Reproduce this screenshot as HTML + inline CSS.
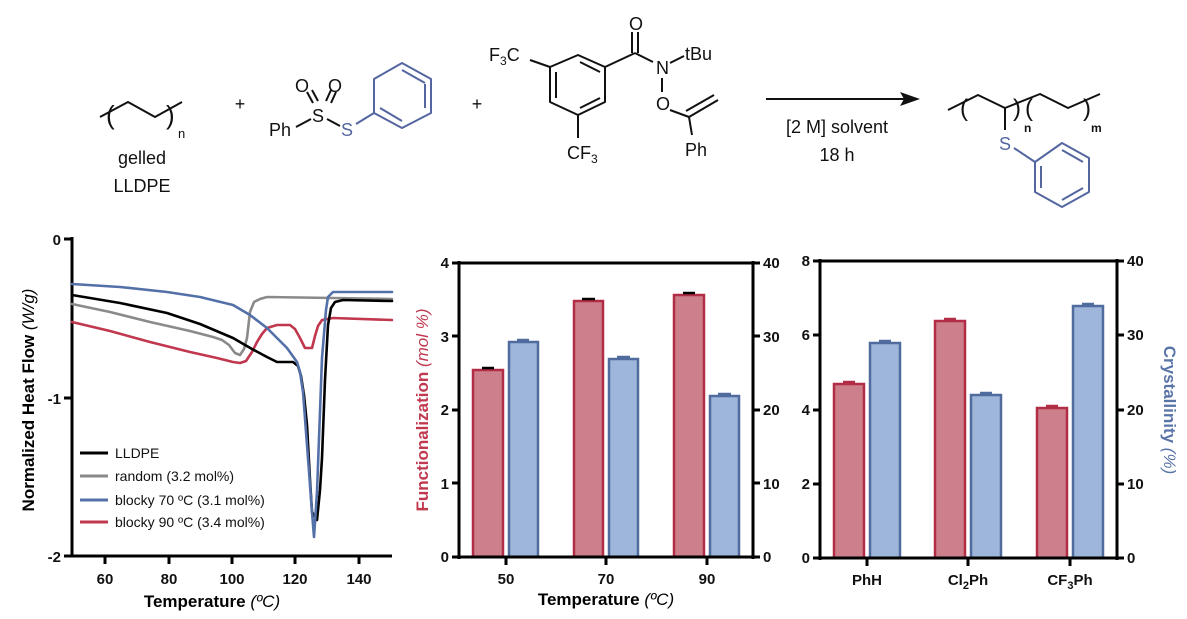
<!DOCTYPE html>
<html><head><meta charset="utf-8"><style>
html,body{margin:0;padding:0;background:#fff;}
svg{display:block;font-family:"Liberation Sans",sans-serif;}
.t{font-size:18px;fill:#111;}
.b{font-size:15px;font-weight:bold;fill:#111;}
.ax{stroke:#000;stroke-width:3;fill:none;}
.rb{fill:#cd808b;stroke:#b12c45;stroke-width:2.5;}
.bb{fill:#9db6da;stroke:#506b9d;stroke-width:2.5;}
.mol{stroke:#111;stroke-width:2;fill:none;stroke-linejoin:round;}
.blu{stroke:#5466a0;stroke-width:2;fill:none;stroke-linejoin:round;}
</style></head><body>
<svg width="1187" height="619" viewBox="0 0 1187 619">
<!-- Scheme -->
<polyline class="mol" points="100,117 128,102 155,117 182,102"/>
<text class="t" x="106" y="124" style="font-size:26px">(</text>
<text class="t" x="166" y="124" style="font-size:26px">)</text>
<text class="t" x="178" y="138" style="font-size:13px">n</text>
<text class="t" x="142" y="164" text-anchor="middle">gelled</text>
<text class="t" x="142" y="192" text-anchor="middle">LLDPE</text>
<text class="t" x="240" y="110" text-anchor="middle">+</text>
<text class="t" x="269" y="136">Ph</text>
<line class="mol" x1="296" y1="127" x2="311" y2="119"/>
<text class="t" x="312" y="122">S</text>
<line class="mol" x1="327" y1="119" x2="340" y2="126"/>
<line class="mol" x1="313" y1="103" x2="307" y2="92"/><line class="mol" x1="318" y1="101" x2="312" y2="90"/>
<line class="mol" x1="326" y1="101" x2="331" y2="90"/><line class="mol" x1="331" y1="103" x2="336" y2="92"/>
<text class="t" x="295" y="92">O</text><text class="t" x="328" y="92">O</text>
<text x="341" y="136" style="font-size:18px;fill:#5466a0">S</text>
<line class="blu" x1="356" y1="124" x2="374" y2="113"/>
<polygon class="blu" points="402,63 431,79 431,113 402,128 374,113 374,79"/>
<line class="blu" x1="402" y1="70" x2="425" y2="83"/>
<line class="blu" x1="425" y1="84" x2="425" y2="108"/><line class="blu" x1="380" y1="108" x2="402" y2="121"/>
<text class="t" x="477" y="110" text-anchor="middle">+</text>
<text class="t" x="489" y="61">F<tspan style="font-size:12px" dy="4">3</tspan><tspan dy="-4">C</tspan></text>
<line class="mol" x1="530" y1="60" x2="550" y2="67"/>
<polygon class="mol" points="578,55 605,67 605,102 578,115 550,102 550,67"/>
<line class="mol" x1="580" y1="62" x2="600" y2="72"/><line class="mol" x1="556" y1="72" x2="556" y2="98"/><line class="mol" x1="580" y1="108" x2="600" y2="98"/>
<line class="mol" x1="578" y1="115" x2="578" y2="138"/>
<text class="t" x="567" y="159">CF<tspan style="font-size:12px" dy="4">3</tspan></text>
<line class="mol" x1="605" y1="67" x2="635" y2="53"/>
<line class="mol" x1="632" y1="53" x2="632" y2="32"/><line class="mol" x1="638" y1="53" x2="638" y2="32"/>
<text class="t" x="629" y="30">O</text>
<line class="mol" x1="635" y1="53" x2="653" y2="62"/>
<text class="t" x="656" y="74">N</text>
<line class="mol" x1="670" y1="63" x2="684" y2="56"/>
<text class="t" x="685" y="60">tBu</text>
<line class="mol" x1="662" y1="78" x2="662" y2="92"/>
<text class="t" x="656" y="110">O</text>
<line class="mol" x1="670" y1="110" x2="689" y2="117"/>
<line class="mol" x1="689" y1="117" x2="718" y2="100"/><line class="mol" x1="686" y1="111" x2="714" y2="95"/>
<line class="mol" x1="689" y1="117" x2="692" y2="135"/>
<text class="t" x="685" y="156">Ph</text>
<line x1="766" y1="99" x2="905" y2="99" stroke="#111" stroke-width="2"/>
<polygon points="920,99 900,92 904,99 900,106" fill="#111"/>
<text class="t" x="837" y="133" text-anchor="middle">[2 M] solvent</text>
<text class="t" x="837" y="161" text-anchor="middle">18 h</text>
<polyline class="mol" points="948,110 978,95 1005,108 1040,94 1068,108 1100,94"/>
<text class="t" x="960" y="116" style="font-size:24px">(</text>
<text class="t" x="1013" y="116" style="font-size:24px">)</text>
<text class="t" x="1025" y="116" style="font-size:24px">(</text>
<text class="t" x="1083" y="116" style="font-size:24px">)</text>
<text x="1024" y="132" style="font-size:12px;font-weight:bold;fill:#111">n</text>
<text x="1091" y="132" style="font-size:12px;font-weight:bold;fill:#111">m</text>
<line class="mol" x1="1005" y1="108" x2="1005" y2="130"/>
<text x="999" y="150" style="font-size:18px;fill:#5466a0">S</text>
<line class="blu" x1="1014" y1="148" x2="1035" y2="162"/>
<polygon class="blu" points="1062,143 1089,158 1089,192 1062,207 1035,192 1035,162"/>
<line class="blu" x1="1062" y1="150" x2="1083" y2="162"/><line class="blu" x1="1041" y1="166" x2="1041" y2="188"/><line class="blu" x1="1062" y1="200" x2="1083" y2="188"/>

<!-- Left DSC chart -->
<line class="ax" x1="72" y1="237" x2="72" y2="557"/>
<line class="ax" x1="70" y1="556" x2="392" y2="556"/>
<line class="ax" x1="64" y1="239" x2="72" y2="239"/><line class="ax" x1="64" y1="398" x2="72" y2="398"/><line class="ax" x1="64" y1="556" x2="72" y2="556"/>
<g class="ax"><line x1="105" y1="556" x2="105" y2="564"/><line x1="169" y1="556" x2="169" y2="564"/><line x1="232" y1="556" x2="232" y2="564"/><line x1="295" y1="556" x2="295" y2="564"/><line x1="359" y1="556" x2="359" y2="564"/></g>
<g class="b" text-anchor="end"><text x="61" y="245">0</text><text x="61" y="404">-1</text><text x="61" y="562">-2</text></g>
<g class="b" text-anchor="middle"><text x="105" y="584">60</text><text x="169" y="584">80</text><text x="232" y="584">100</text><text x="295" y="584">120</text><text x="359" y="584">140</text></g>
<text x="212" y="607" text-anchor="middle" style="font-size:17px;font-weight:bold">Temperature <tspan font-weight="normal" font-style="italic">(ºC)</tspan></text>
<text transform="translate(34,400) rotate(-90)" text-anchor="middle" style="font-size:17px;font-weight:bold">Normalized Heat Flow <tspan font-weight="normal" font-style="italic">(W/g)</tspan></text>
<g fill="none" stroke-width="2.6" stroke-linejoin="round" stroke-linecap="round">
<polyline stroke="#8a8a8a" points="72,304 110,312 150,322 190,331 213,337 222,340 229,345 235,353 240,355 244,349 247,338 250,312 254,302 260,299 267,297 333,298 392,299"/>
<polyline stroke="#c0374e" points="72,322 110,331 150,342 190,352 217,358 233,362 240,363 246,361 252,352 257,342 262,334 267,328 277,325 290,325 295,329 300,338 305,348 312,348 315,336 318,326 322,320 333,318 392,320"/>
<polyline stroke="#000" points="72,295 120,303 167,313 200,324 233,338 252,349 267,357 277,362 293,362 298,366 301,376 304,395 307,425 310,480 312,512 317,520 320,490 322,458 325,380 328,325 331,308 335,302 343,300 392,301"/>
<polyline stroke="#5470a8" points="72,284 120,287 167,292 200,297 233,305 250,315 267,328 287,348 297,362 300,372 303,392 308,458 312,512 314,537 317,492 322,358 326,310 328,297 333,292 392,292"/>
</g>
<g stroke-width="3"><line x1="80" y1="453" x2="108" y2="453" stroke="#000"/><line x1="80" y1="476" x2="108" y2="476" stroke="#8a8a8a"/><line x1="80" y1="500" x2="108" y2="500" stroke="#5470a8"/><line x1="80" y1="522" x2="108" y2="522" stroke="#c0374e"/></g>
<g style="font-size:14px" fill="#111"><text x="115" y="458">LLDPE</text><text x="115" y="481">random (3.2 mol%)</text><text x="115" y="505">blocky 70 ºC (3.1 mol%)</text><text x="115" y="527">blocky 90 ºC (3.4 mol%)</text></g>

<!-- Middle chart -->
<rect class="rb" x="473" y="370" width="30" height="187"/><rect class="bb" x="509" y="342" width="29" height="215"/>
<rect class="rb" x="574" y="301" width="29" height="256"/><rect class="bb" x="609" y="359" width="29" height="198"/>
<rect class="rb" x="674" y="295" width="30" height="262"/><rect class="bb" x="710" y="396" width="29" height="161"/>
<g stroke-width="2.5"><line x1="482" y1="368" x2="494" y2="368" stroke="#000"/><line x1="517" y1="340" x2="529" y2="340" stroke="#506b9d"/><line x1="582" y1="299" x2="595" y2="299" stroke="#000"/><line x1="617" y1="357" x2="630" y2="357" stroke="#506b9d"/><line x1="683" y1="293" x2="695" y2="293" stroke="#000"/><line x1="718" y1="394" x2="731" y2="394" stroke="#506b9d"/></g>
<line class="ax" x1="459" y1="263" x2="753" y2="263"/>
<line class="ax" x1="459" y1="261" x2="459" y2="559"/><line class="ax" x1="753" y1="261" x2="753" y2="559"/>
<line class="ax" x1="452" y1="557" x2="760" y2="557"/>
<g class="ax"><line x1="452" y1="263" x2="459" y2="263"/><line x1="452" y1="336" x2="459" y2="336"/><line x1="452" y1="410" x2="459" y2="410"/><line x1="452" y1="483" x2="459" y2="483"/>
<line x1="753" y1="263" x2="760" y2="263"/><line x1="753" y1="336" x2="760" y2="336"/><line x1="753" y1="410" x2="760" y2="410"/><line x1="753" y1="483" x2="760" y2="483"/>
<line x1="506" y1="557" x2="506" y2="565"/><line x1="606" y1="557" x2="606" y2="565"/><line x1="707" y1="557" x2="707" y2="565"/></g>
<g class="b" text-anchor="end"><text x="449" y="268">4</text><text x="449" y="342">3</text><text x="449" y="415">2</text><text x="449" y="489">1</text><text x="449" y="562">0</text></g>
<g class="b"><text x="763" y="268">40</text><text x="763" y="342">30</text><text x="763" y="415">20</text><text x="763" y="489">10</text><text x="763" y="562">0</text></g>
<g class="b" text-anchor="middle"><text x="506" y="584">50</text><text x="606" y="584">70</text><text x="707" y="584">90</text></g>
<text x="606" y="605" text-anchor="middle" style="font-size:17px;font-weight:bold">Temperature <tspan font-weight="normal" font-style="italic">(ºC)</tspan></text>
<text transform="translate(428,410) rotate(-90)" text-anchor="middle" style="font-size:17px;font-weight:bold;fill:#c0394f">Functionalization <tspan font-weight="normal" font-style="italic">(mol %)</tspan></text>

<!-- Right chart -->
<rect class="rb" x="834" y="384" width="30" height="174"/><rect class="bb" x="870" y="343" width="30" height="215"/>
<rect class="rb" x="935" y="321" width="30" height="237"/><rect class="bb" x="971" y="395" width="30" height="163"/>
<rect class="rb" x="1037" y="408" width="30" height="150"/><rect class="bb" x="1073" y="306" width="30" height="252"/>
<g stroke-width="2.5"><line x1="843" y1="382" x2="855" y2="382" stroke="#b12c45"/><line x1="879" y1="341" x2="891" y2="341" stroke="#506b9d"/><line x1="944" y1="319" x2="956" y2="319" stroke="#b12c45"/><line x1="980" y1="393" x2="992" y2="393" stroke="#506b9d"/><line x1="1046" y1="406" x2="1058" y2="406" stroke="#b12c45"/><line x1="1082" y1="304" x2="1094" y2="304" stroke="#506b9d"/></g>
<line class="ax" x1="820" y1="261" x2="1117" y2="261"/>
<line class="ax" x1="820" y1="259" x2="820" y2="560"/><line class="ax" x1="1117" y1="259" x2="1117" y2="560"/>
<line class="ax" x1="813" y1="558" x2="1124" y2="558"/>
<g class="ax"><line x1="813" y1="261" x2="820" y2="261"/><line x1="813" y1="335" x2="820" y2="335"/><line x1="813" y1="410" x2="820" y2="410"/><line x1="813" y1="484" x2="820" y2="484"/>
<line x1="1117" y1="261" x2="1124" y2="261"/><line x1="1117" y1="335" x2="1124" y2="335"/><line x1="1117" y1="410" x2="1124" y2="410"/><line x1="1117" y1="484" x2="1124" y2="484"/>
<line x1="867" y1="558" x2="867" y2="566"/><line x1="968" y1="558" x2="968" y2="566"/><line x1="1070" y1="558" x2="1070" y2="566"/></g>
<g class="b" text-anchor="end"><text x="810" y="266">8</text><text x="810" y="340">6</text><text x="810" y="415">4</text><text x="810" y="489">2</text><text x="810" y="563">0</text></g>
<g class="b"><text x="1127" y="266">40</text><text x="1127" y="340">30</text><text x="1127" y="415">20</text><text x="1127" y="489">10</text><text x="1127" y="563">0</text></g>
<g class="b" text-anchor="middle"><text x="867" y="585">PhH</text><text x="968" y="585">Cl<tspan dy="4" style="font-size:11px">2</tspan><tspan dy="-4">Ph</tspan></text><text x="1070" y="585">CF<tspan dy="4" style="font-size:11px">3</tspan><tspan dy="-4">Ph</tspan></text></g>
<text transform="translate(1164,410) rotate(90)" text-anchor="middle" style="font-size:17px;font-weight:bold;fill:#5a74a8">Crystallinity <tspan font-weight="normal" font-style="italic">(%)</tspan></text>
</svg>
</body></html>
